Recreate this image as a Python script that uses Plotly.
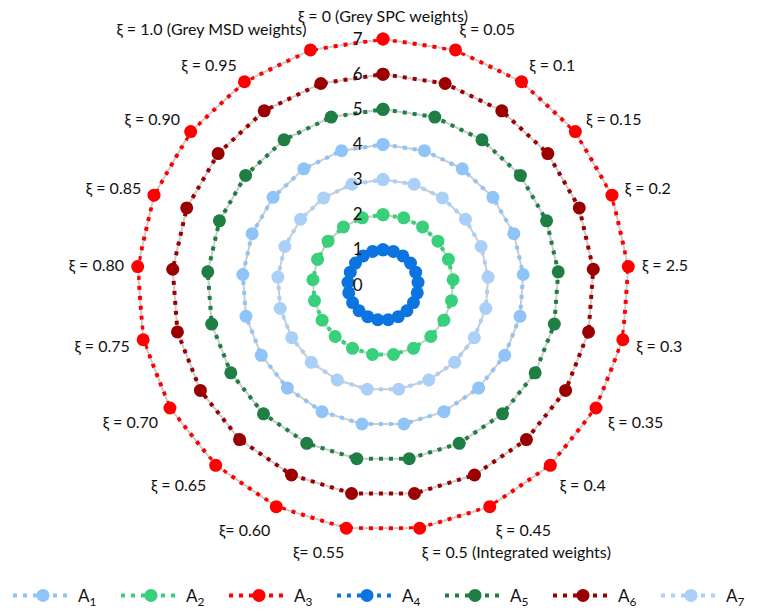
import plotly.graph_objects as go

categories = ["ξ = 0 (Grey SPC weights)", "ξ = 0.05", "ξ = 0.1", "ξ = 0.15", "ξ = 0.2",
              "ξ = 2.5", "ξ = 0.3", "ξ = 0.35", "ξ = 0.4", "ξ = 0.45",
              "ξ = 0.5 (Integrated weights)", "ξ= 0.55", "ξ= 0.60", "ξ = 0.65", "ξ = 0.70",
              "ξ = 0.75", "ξ = 0.80", "ξ = 0.85", "ξ = 0.90", "ξ = 0.95",
              "ξ = 1.0 (Grey MSD weights)"]

A1 = [4, 4, 4, 4, 4, 4, 4, 4, 4, 4, 4, 4, 4, 4, 4, 4, 4, 4, 4, 4, 4]
A2 = [2, 2, 2, 2, 2, 2, 2, 2, 2, 2, 2, 2, 2, 2, 2, 2, 2, 2, 2, 2, 2]
A3 = [7, 7, 7, 7, 7, 7, 7, 7, 7, 7, 7, 7, 7, 7, 7, 7, 7, 7, 7, 7, 7]
A4 = [1, 1, 1, 1, 1, 1, 1, 1, 1, 1, 1, 1, 1, 1, 1, 1, 1, 1, 1, 1, 1]
A5 = [5, 5, 5, 5, 5, 5, 5, 5, 5, 5, 5, 5, 5, 5, 5, 5, 5, 5, 5, 5, 5]
A6 = [6, 6, 6, 6, 6, 6, 6, 6, 6, 6, 6, 6, 6, 6, 6, 6, 6, 6, 6, 6, 6]
A7 = [3, 3, 3, 3, 3, 3, 3, 3, 3, 3, 3, 3, 3, 3, 3, 3, 3, 3, 3, 3, 3]

series = [
    ("A<sub>1</sub>", A1, "#90c4f8"),
    ("A<sub>2</sub>", A2, "#38d07a"),
    ("A<sub>3</sub>", A3, "#ff0000"),
    ("A<sub>4</sub>", A4, "#0b74e0"),
    ("A<sub>5</sub>", A5, "#1e7e44"),
    ("A<sub>6</sub>", A6, "#9b0000"),
    ("A<sub>7</sub>", A7, "#aad0f8"),
]

fig = go.Figure()
for name, vals, color in series:
    r = vals + [vals[0]]
    th = categories + [categories[0]]
    fig.add_trace(go.Scatterpolar(
        r=r, theta=th, mode="lines", showlegend=False, hoverinfo="skip",
        line=dict(color="#cccccc", width=2)))
    fig.add_trace(go.Scatterpolar(
        r=r, theta=th, mode="lines+markers", name=name,
        line=dict(color=color, width=4, dash="4px,6px"),
        marker=dict(color=color, size=13)))

W, H = 762, 612
cx, cy, R = 375, 277, 246
fig.update_layout(
    width=W, height=H,
    paper_bgcolor="white",
    font=dict(family="Lato", size=16, color="#111111"),
    margin=dict(l=0, r=0, t=0, b=0, autoexpand=False),
    polar=dict(
        domain=dict(x=[(cx - R) / W, (cx + R) / W], y=[1 - (cy + R) / H, 1 - (cy - R) / H]),
        bgcolor="white",
        angularaxis=dict(type="category", categoryorder="array", categoryarray=categories,
                         direction="clockwise", rotation=90,
                         showline=False, showgrid=False,
                         ticks="outside", ticklen=10, tickcolor="rgba(0,0,0,0)",
                         tickfont=dict(size=16)),
        radialaxis=dict(range=[0, 7], angle=90, tickangle=90, side="counterclockwise",
                        showline=False, showgrid=False,
                        ticks="outside", ticklen=14, tickcolor="rgba(0,0,0,0)",
                        tickvals=[0, 1, 2, 3, 4, 5, 6, 7],
                        tickfont=dict(size=17)),
    ),
    legend=dict(orientation="h", x=-0.012, xanchor="left", y=0.01, yanchor="bottom",
                xref="container", yref="container",
                itemwidth=60, entrywidth=33, font=dict(size=17)),
)

fig.write_html("out.html")
